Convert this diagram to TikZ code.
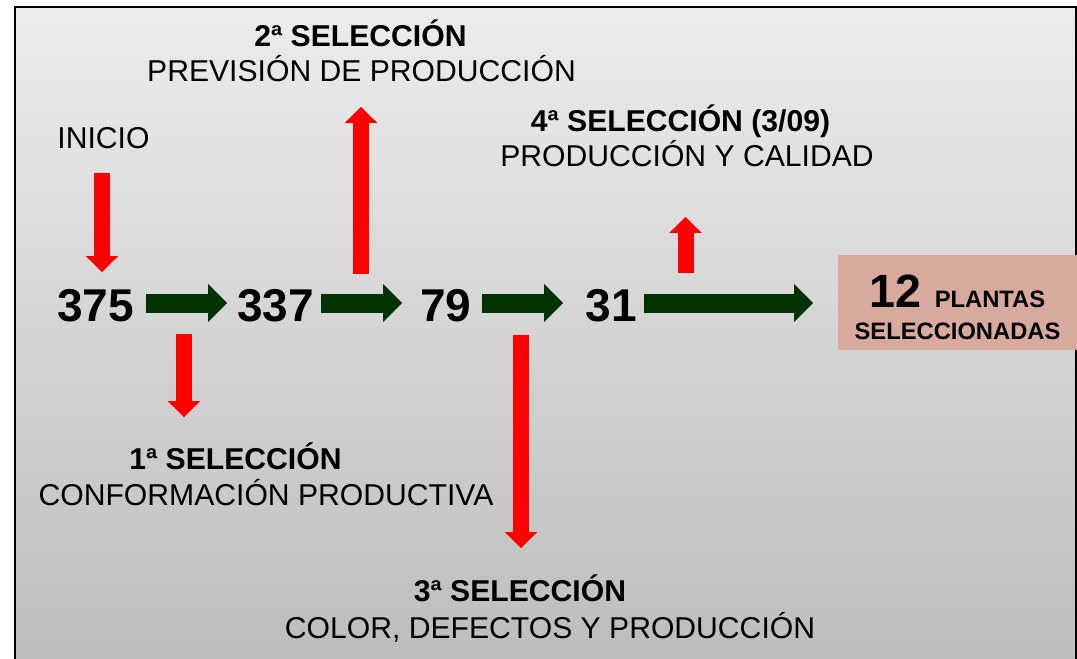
\documentclass[tikz,border=0pt]{standalone}
\usepackage{fontspec}
\setmainfont{Liberation Sans}
\usetikzlibrary{arrows.meta}
\definecolor{bgtop}{HTML}{ECECEC}
\definecolor{bgbot}{HTML}{BDBDBD}
\definecolor{darkgreen}{HTML}{003300}
\definecolor{boxc}{HTML}{D8AA9E}
\begin{document}
\begin{tikzpicture}[x=0.75pt,y=-0.75pt,
  lbl/.style={anchor=base, inner sep=0pt, font=\fontsize{22.6pt}{27pt}\selectfont},
  blbl/.style={anchor=base, inner sep=0pt, font=\fontsize{22.6pt}{27pt}\selectfont\bfseries},
  num/.style={anchor=base, inner sep=0pt, font=\fontsize{34.5pt}{40pt}\selectfont\bfseries},
  garrow/.style={draw=darkgreen, line width=14.25pt, -{Triangle[length=14.25pt,width=28.5pt,line width=0pt]}},
  rarrow/.style={draw=red, line width=12pt, -{Triangle[length=12pt,width=24.5pt,line width=0pt]}},
  finalbox/.style={fill=boxc, minimum width=179.25pt, minimum height=71.25pt, inner sep=0pt}]
\useasboundingbox (0,0) rectangle (1077,659);
\fill[white] (0,0) rectangle (1077,659);
\shade[top color=bgtop, bottom color=bgbot] (15,7) rectangle (1076,659);
\draw[line width=1.5pt] (15,659) -- (15,7) -- (1076,7) -- (1076,659);

% labels
\node[lbl]  (inicio) at (103.5,149) {INICIO};
\node[blbl] (s2a) at (360.5,47) {2ª SELECCIÓN};
\node[lbl]  (s2b) at (361.5,82) {PREVISIÓN DE PRODUCCIÓN};
\node[blbl] (s4a) at (680.5,132) {4ª SELECCIÓN (3/09)};
\node[lbl]  (s4b) at (687,167) {PRODUCCIÓN Y CALIDAD};
\node[blbl] (s1a) at (235.5,469) {1ª SELECCIÓN};
\node[lbl]  (s1b) at (266,505) {CONFORMACIÓN PRODUCTIVA};
\node[blbl] (s3a) at (520,601) {3ª SELECCIÓN};
\node[lbl]  (s3b) at (550,638) {COLOR, DEFECTOS Y PRODUCCIÓN};

% numbers
\node[num] (n375) at (95.5,321) {375};
\node[num] (n337) at (275.5,321) {337};
\node[num] (n79)  at (446,321) {79};
\node[num] (n31)  at (611,321) {31};

% final box
\node[finalbox] (final) at (957.5,302.5) {};
\node[anchor=base, inner sep=0pt] (twelve) at (957.5,307)
  {\fontsize{35pt}{40pt}\selectfont\bfseries 12 {\fontsize{17.8pt}{20pt}\selectfont PLANTAS}};
\node[anchor=base, inner sep=0pt] (selec) at (957.5,339)
  {\fontsize{17.8pt}{20pt}\selectfont\bfseries SELECCIONADAS};

% arrow end points
\coordinate (g1s) at (146,303); \coordinate (g1e) at (227,303);
\coordinate (g2s) at (321,303); \coordinate (g2e) at (402,303);
\coordinate (g3s) at (482,303); \coordinate (g3e) at (563,303);
\coordinate (g4s) at (644,303); \coordinate (g4e) at (813,303);
\coordinate (r0s) at (102,173); \coordinate (r0e) at (102,272);
\coordinate (r1s) at (184,334); \coordinate (r1e) at (184,417);
\coordinate (r2s) at (361,274); \coordinate (r2e) at (361,107);
\coordinate (r3s) at (521,335); \coordinate (r3e) at (521,548);
\coordinate (r4s) at (685.5,273); \coordinate (r4e) at (685.5,217);

\draw[garrow] (g1s) -- (g1e);
\draw[garrow] (g2s) -- (g2e);
\draw[garrow] (g3s) -- (g3e);
\draw[garrow] (g4s) -- (g4e);
\draw[rarrow] (r0s) -- (r0e);
\draw[rarrow] (r1s) -- (r1e);
\draw[rarrow] (r2s) -- (r2e);
\draw[rarrow] (r3s) -- (r3e);
\draw[rarrow] (r4s) -- (r4e);
\end{tikzpicture}
\end{document}
